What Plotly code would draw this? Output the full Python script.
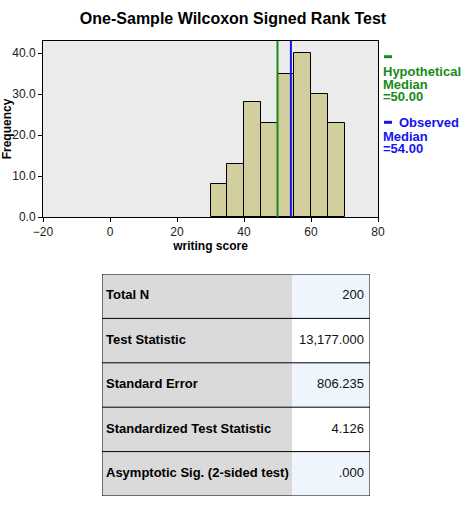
import plotly.graph_objs as go

# histogram bins (left edge, width 5) and counts
bin_left = [30, 35, 40, 45, 50, 55, 60, 65]
counts = [8, 13, 28, 23, 35, 40, 30, 23]
bin_width = 5

hyp_median = 50.00
obs_median = 54.00

# summary table
row_labels = ['Total N', 'Test Statistic', 'Standard Error',
              'Standardized Test Statistic', 'Asymptotic Sig. (2-sided test)']
row_values = ['200', '13,177.000', '806.235', '4.126', '.000']
col_widths = [190, 78]

FONT = 'Liberation Sans, Arial, sans-serif'
W, H = 466, 505
# margins put the plot box exactly where the original has it
ml, mr, mt, mb = 43, 88, 41, 9
pw, ph = W - ml - mr, H - mt - mb


def px_y(y):
    # pixel row -> paper fraction
    return (H - mb - y) / ph


def px_x(x):
    return (x - ml) / pw


green = '#178a17'
blue = '#1414f0'

fig = go.Figure()

fig.add_trace(go.Bar(
    x=[b + bin_width / 2 for b in bin_left],
    y=counts,
    width=bin_width,
    marker=dict(color='#d3ce9d', line=dict(color='black', width=1)),
    showlegend=False,
    hoverinfo='x+y',
))

# median lines
for val, col in [(hyp_median, green), (obs_median, blue)]:
    fig.add_trace(go.Scatter(
        x=[val, val], y=[0, 43], mode='lines',
        line=dict(color=col, width=2), showlegend=False, hoverinfo='skip'))

# ---- table drawn on its own hidden axes (x2 / y2) ----
total_w = sum(col_widths)
n_rows = len(row_labels)
fill_grey = '#dadada'
fill_blue = '#eef5fd'
fill_white = '#ffffff'
shapes = []
for i in range(n_rows):
    shapes.append(dict(type='rect', xref='x2', yref='y2', x0=0, x1=col_widths[0],
                       y0=i, y1=i + 1, fillcolor=fill_grey, line_width=0, layer='below'))
    shapes.append(dict(type='rect', xref='x2', yref='y2', x0=col_widths[0], x1=total_w,
                       y0=i, y1=i + 1, fillcolor=fill_blue if i % 2 == 0 else fill_white,
                       line_width=0, layer='below'))
for i in range(1, n_rows):
    shapes.append(dict(type='line', xref='x2', yref='y2', x0=0, x1=total_w, y0=i, y1=i,
                       line=dict(color='black', width=1)))
shapes.append(dict(type='rect', xref='x2', yref='y2', x0=0, x1=total_w, y0=0, y1=n_rows,
                   line=dict(color='black', width=1)))

rows_mid = [i + 0.5 for i in range(n_rows)]
fig.add_trace(go.Scatter(
    x=[4] * n_rows, y=rows_mid, mode='text',
    text=['<b>' + r + '</b>' for r in row_labels], textposition='middle right',
    textfont=dict(family=FONT, size=13, color='black'),
    xaxis='x2', yaxis='y2', showlegend=False, hoverinfo='skip', cliponaxis=False))
fig.add_trace(go.Scatter(
    x=[total_w - 6] * n_rows, y=rows_mid, mode='text',
    text=row_values, textposition='middle left',
    textfont=dict(family=FONT, size=13, color='#111'),
    xaxis='x2', yaxis='y2', showlegend=False, hoverinfo='skip', cliponaxis=False))

fig.update_layout(
    width=W, height=H, autosize=False,
    margin=dict(l=ml, r=mr, t=mt, b=mb),
    paper_bgcolor='white',
    plot_bgcolor='#ebebeb',
    font=dict(family=FONT, size=12, color='black'),
    title=dict(text='<b>One-Sample Wilcoxon Signed Rank Test</b>',
               x=0.5, xref='container', xanchor='center',
               y=1 - 18 / H, yref='container', yanchor='middle',
               font=dict(size=16, color='black')),
    bargap=0,
    shapes=shapes,
    xaxis=dict(
        range=[-20, 80], tickvals=[-20, 0, 20, 40, 60, 80],
        showgrid=False, zeroline=False, automargin=False,
        showline=True, linecolor='black', linewidth=1, mirror=True,
        ticks='outside', ticklen=4, tickcolor='black',
        tickfont=dict(size=12, color='#222'),
        title=dict(text='<b>writing score</b>', font=dict(size=12), standoff=2),
        domain=[0, 1], anchor='y',
    ),
    yaxis=dict(
        range=[0, 43], tickvals=[0, 10, 20, 30, 40], tickformat='.1f',
        showgrid=False, zeroline=False, automargin=False,
        showline=True, linecolor='black', linewidth=1, mirror=True,
        ticks='outside', ticklen=4, tickcolor='black',
        tickfont=dict(size=12, color='#222'),
        title=dict(text='<b>Frequency</b>', font=dict(size=12), standoff=3),
        domain=[px_y(217), 1], anchor='x',
    ),
    xaxis2=dict(domain=[px_x(102), px_x(370)], range=[0, total_w], anchor='y2',
                visible=False, fixedrange=True),
    yaxis2=dict(domain=[0, px_y(274)], range=[n_rows, 0], anchor='x2',
                visible=False, fixedrange=True),
)

# legend-like labels on the right, one annotation per line (13px pitch as in the original)
legend_lines = [
    ('<b>Hypothetical</b>', 71, green), ('<b>Median</b>', 84, green),
    ('<b>=%.2f</b>' % hyp_median, 96.5, green),
    ('<b>Median</b>', 136, blue), ('<b>=%.2f</b>' % obs_median, 148.5, blue),
]
for txt, ypx, col in legend_lines:
    fig.add_annotation(x=px_x(381), y=px_y(ypx), xref='paper', yref='paper',
                       xanchor='left', yanchor='middle', showarrow=False,
                       text=txt, font=dict(family=FONT, size=13, color=col))
fig.add_annotation(x=px_x(397), y=px_y(122.5), xref='paper', yref='paper',
                   xanchor='left', yanchor='middle', showarrow=False,
                   text='<b>Observed</b>', font=dict(family=FONT, size=13, color=blue))
# small colour keys
for ypx, col in [(56.7, green), (122.3, blue)]:
    fig.add_shape(type='rect', xref='paper', yref='paper',
                  x0=px_x(384), x1=px_x(392), y0=px_y(ypx - 1.5), y1=px_y(ypx + 1.5),
                  fillcolor=col, line_width=0)

# the page body has an 8px default margin; drop it so the figure sits at 0,0
fig.write_html('out.html', config={'displayModeBar': False},
               post_script="document.body.style.margin='0';")
